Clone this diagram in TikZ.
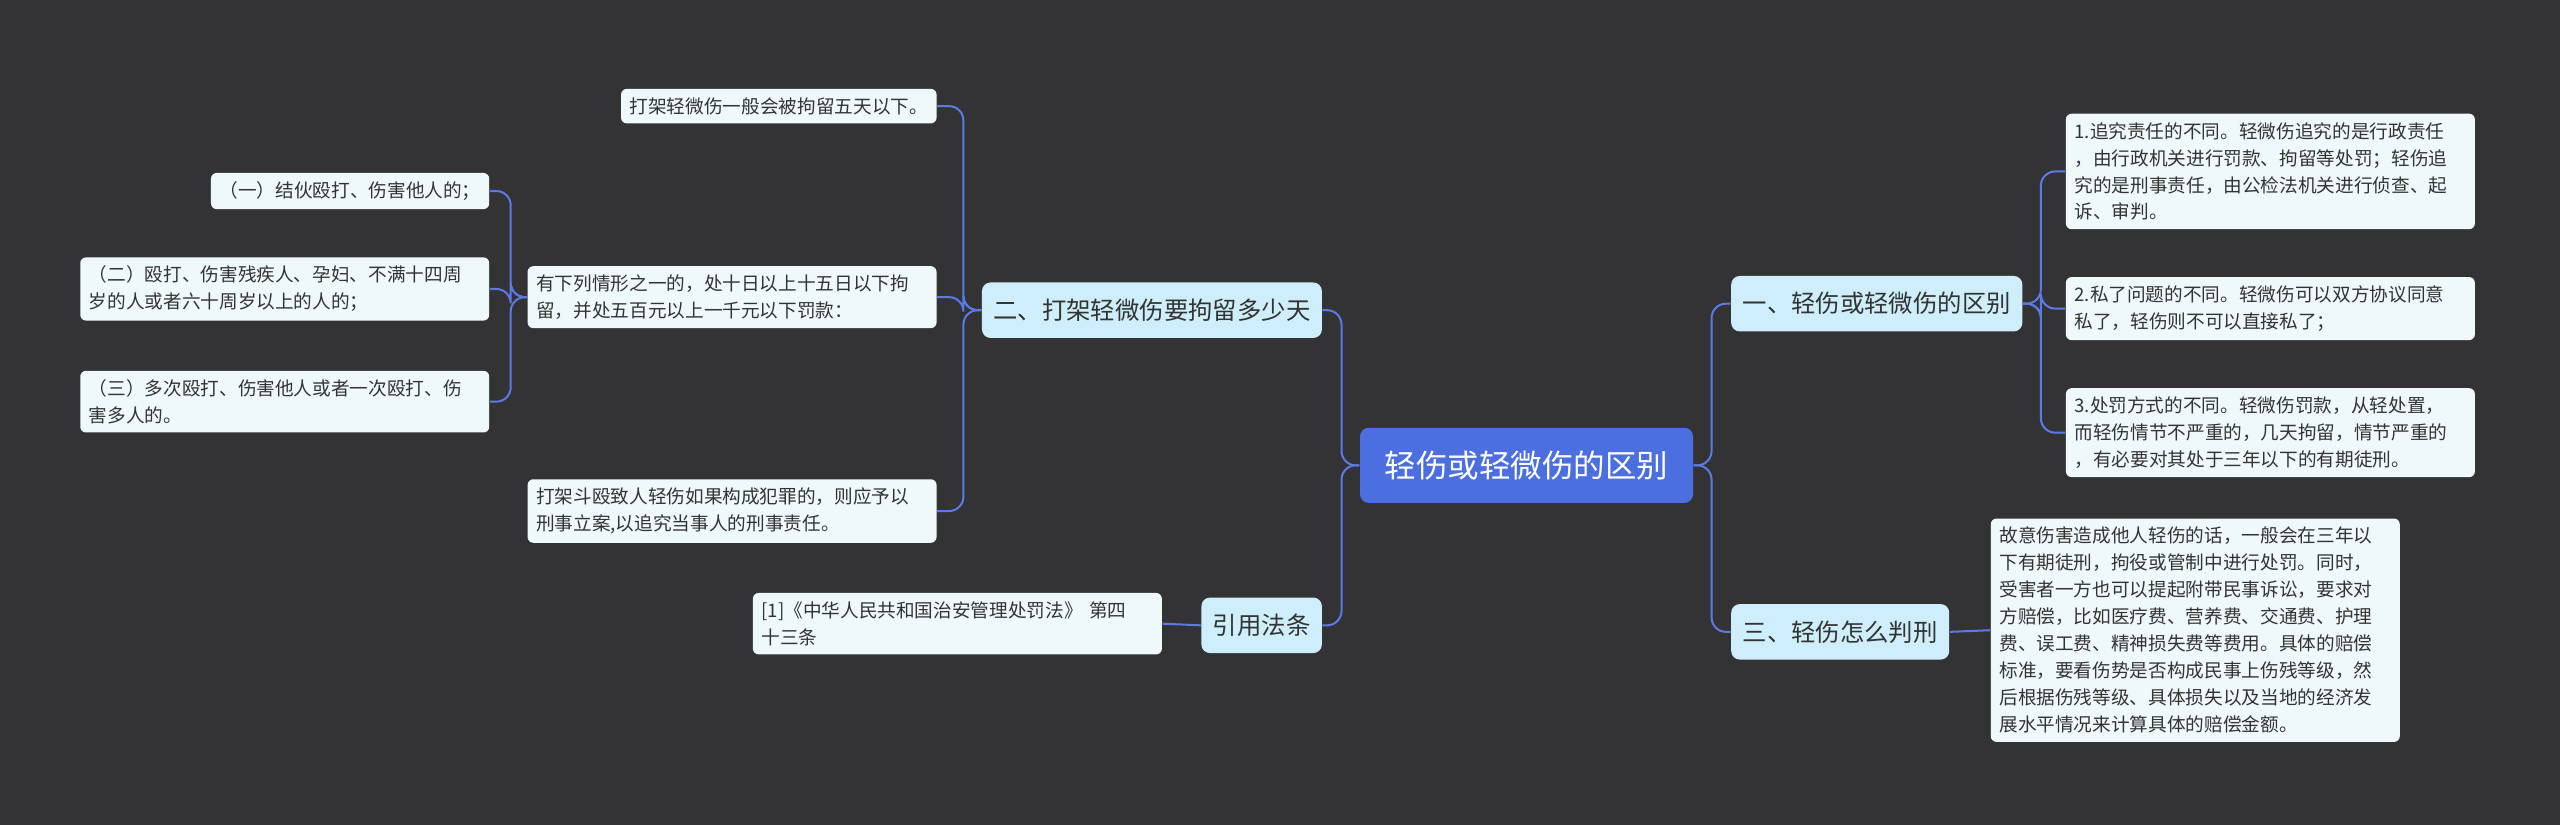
\documentclass[tikz,border=0pt]{standalone}
\usepackage{fontspec}
\setmainfont{Noto Sans CJK SC}
\usetikzlibrary{positioning}
\definecolor{bgc}{HTML}{333335}
\definecolor{rootc}{HTML}{4C6FE0}
\definecolor{midc}{HTML}{CDEEFA}
\definecolor{leafc}{HTML}{EFF9FC}
\definecolor{linec}{HTML}{5B7AE6}
\definecolor{txtc}{HTML}{333333}
\tikzset{
  rootbox/.style={fill=rootc, text=white, rounded corners=3pt, minimum width=4.08cm, minimum height=0.92cm, font=\fontsize{11}{13}\selectfont},
  midbox/.style={fill=midc, text=txtc, rounded corners=3pt, minimum height=0.68cm, inner xsep=4pt, font=\fontsize{8.5}{10}\selectfont},
  leafbox/.style={fill=leafc, text=txtc, rounded corners=2pt, align=left, inner sep=3pt, font=\fontsize{6.5}{9.4}\selectfont},
  link/.style={draw=linec, line width=0.7pt, rounded corners=5pt}
}
\begin{document}
\begin{tikzpicture}[x=0.02cm,y=-0.02cm]
  \fill[bgc] (0,0) rectangle (1568,505);
  \useasboundingbox (0,0) rectangle (1568,505);

  % root
  \node[rootbox] (root) at (935,285) {轻伤或轻微伤的区别};

  % right side
  \node[midbox, anchor=west] (diff) at (1060,186) {一、轻伤或轻微伤的区别};
  \node[midbox, anchor=west] (sent) at (1060,387) {三、轻伤怎么判刑};

  \node[leafbox, anchor=west, text width=4.8cm] (d1) at (1265,105) {1.追究责任的不同。轻微伤追究的是行政责任\\，由行政机关进行罚款、拘留等处罚；轻伤追\\究的是刑事责任，由公检法机关进行侦查、起\\诉、审判。};
  \node[leafbox, anchor=west, text width=4.8cm] (d2) at (1265,189) {2.私了问题的不同。轻微伤可以双方协议同意\\私了，轻伤则不可以直接私了；};
  \node[leafbox, anchor=west, text width=4.8cm] (d3) at (1265,265) {3.处罚方式的不同。轻微伤罚款，从轻处置，\\而轻伤情节不严重的，几天拘留，情节严重的\\，有必要对其处于三年以下的有期徒刑。};
  \node[leafbox, anchor=west, text width=4.8cm] (s1) at (1219,386) {故意伤害造成他人轻伤的话，一般会在三年以\\下有期徒刑，拘役或管制中进行处罚。同时，\\受害者一方也可以提起附带民事诉讼，要求对\\方赔偿，比如医疗费、营养费、交通费、护理\\费、误工费、精神损失费等费用。具体的赔偿\\标准，要看伤势是否构成民事上伤残等级，然\\后根据伤残等级、具体损失以及当地的经济发\\展水平情况来计算具体的赔偿金额。};

  % left side
  \node[midbox, anchor=east] (days) at (810,190) {二、打架轻微伤要拘留多少天};
  \node[midbox, anchor=east] (law) at (810,383) {引用法条};

  \node[leafbox, anchor=east] (a1) at (574,65) {打架轻微伤一般会被拘留五天以下。};
  \node[leafbox, anchor=east, text width=4.8cm] (a2) at (574,182) {有下列情形之一的，处十日以上十五日以下拘\\留，并处五百元以上一千元以下罚款：};
  \node[leafbox, anchor=east, text width=4.8cm] (a3) at (574,313) {打架斗殴致人轻伤如果构成犯罪的，则应予以\\刑事立案,以追究当事人的刑事责任。};
  \node[leafbox, anchor=east] (b1) at (300,117) {（一）结伙殴打、伤害他人的；};
  \node[leafbox, anchor=east, text width=4.8cm] (b2) at (300,177) {（二）殴打、伤害残疾人、孕妇、不满十四周\\岁的人或者六十周岁以上的人的；};
  \node[leafbox, anchor=east, text width=4.8cm] (b3) at (300,246) {（三）多次殴打、伤害他人或者一次殴打、伤\\害多人的。};
  \node[leafbox, anchor=east, text width=4.8cm] (l1) at (712,382) {[1]《中华人民共和国治安管理处罚法》 第四\\十三条};

  % connectors
  \foreach \c in {diff,sent}
    \draw[link] (root.east) -- ++(11,0) |- (\c.west);
  \foreach \c in {d1,d2,d3}
    \draw[link] (diff.east) -- ++(11,0) |- (\c.west);
  \draw[link] (sent.east) -- (s1.west);
  \foreach \c in {days,law}
    \draw[link] (root.west) -- ++(-11,0) |- (\c.east);
  \foreach \c in {a1,a2,a3}
    \draw[link] (days.west) -- ++(-11,0) |- (\c.east);
  \foreach \c in {b1,b2,b3}
    \draw[link] (a2.west) -- ++(-10,0) |- (\c.east);
  \draw[link] (law.west) -- (l1.east);
\end{tikzpicture}
\end{document}
